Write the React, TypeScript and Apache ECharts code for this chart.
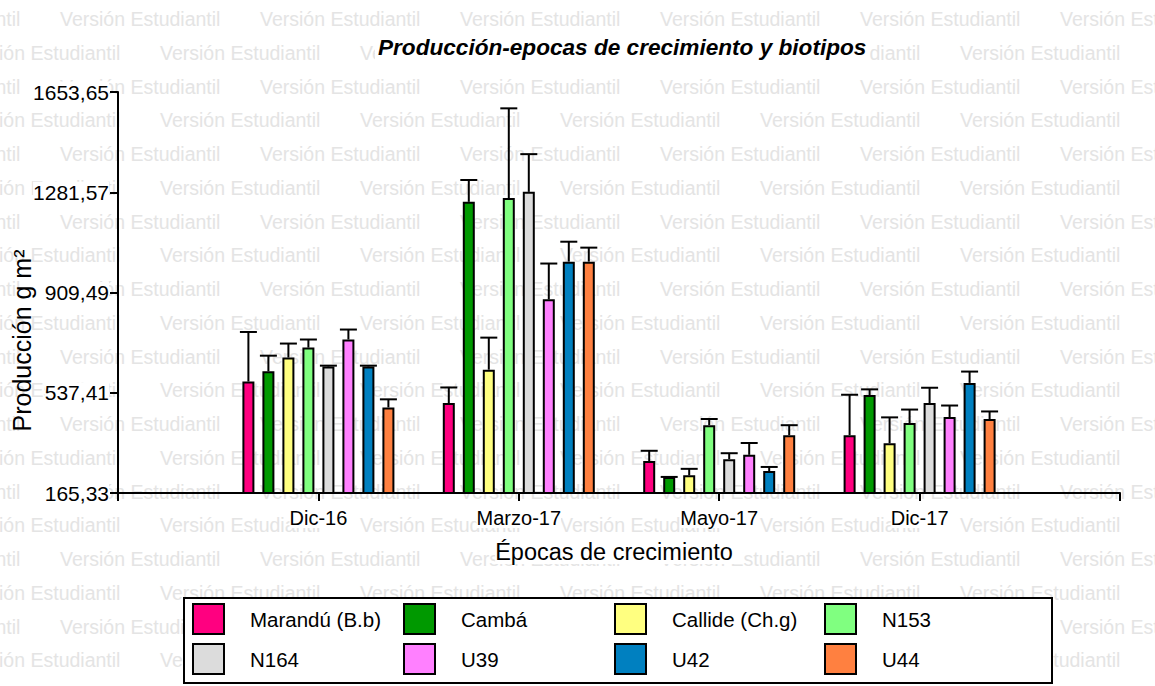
import React, { useEffect, useRef } from 'react';
import * as echarts from 'echarts';

const categories = ['Dic-16', 'Marzo-17', 'Mayo-17', 'Dic-17'];
const axisCategories = ['', 'Dic-16', 'Marzo-17', 'Mayo-17', 'Dic-17', ''];
const seriesNames = ['Marandú (B.b)', 'Cambá', 'Callide (Ch.g)', 'N153', 'N164', 'U39', 'U42', 'U44'];
const seriesColors = ['#FF0080', '#009900', '#FFFF80', '#80FF80', '#DCDCDC', '#FF80FF', '#0080C0', '#FF8040'];

// mean production per epoch (Dic-16, Marzo-17, Mayo-17, Dic-17)
const marandu = [579, 499, 284, 380];
const camba = [617, 1246, 225, 529];
const callide = [668, 623, 231, 350];
const n153 = [705, 1260, 417, 425];
const n164 = [635, 1283, 291, 499];
const u39 = [735, 884, 307, 447];
const u42 = [635, 1024, 247, 574];
const u44 = [483, 1024, 380, 440];

// upper error (SE) per epoch
const maranduErr = [184, 58, 38, 150];
const cambaErr = [58, 81, 0, 21];
const callideErr = [52, 119, 24, 96];
const n153Err = [30, 333, 23, 50];
const n164Err = [3, 140, 22, 57];
const u39Err = [37, 133, 44, 43];
const u42Err = [3, 74, 15, 42];
const u44Err = [30, 52, 37, 28];

const yTickValues = [165.33, 537.41, 909.49, 1281.57, 1653.65];
const yTickLabels = ['165,33', '537,41', '909,49', '1281,57', '1653,65'];

const means = [marandu, camba, callide, n153, n164, u39, u42, u44];
const errs = [maranduErr, cambaErr, callideErr, n153Err, n164Err, u39Err, u42Err, u44Err];

const FONT = 'Liberation Sans, Arial, sans-serif';
const BAR_W = 12;
const BAR_STEP = 20;

export default function App() {
  const ref = useRef<HTMLDivElement>(null);
  useEffect(() => {
    const chart = echarts.init(ref.current!, null, { renderer: 'svg' });

    const watermark: any[] = [];
    for (let k = 0; k < 20; k++) {
      const y = 19 + 33.75 * k;
      const start = (k % 2 === 0 ? 60 : 160) - 200;
      for (let x = start; x < 1155; x += 200) {
        watermark.push({
          type: 'text',
          x,
          y,
          z: -10,
          silent: true,
          style: {
            text: 'Versión Estudiantil',
            font: `19.5px ${FONT}`,
            fill: '#e4e4e4',
            verticalAlign: 'middle',
          },
        });
      }
    }

    const barSeries = seriesNames.map((name, i) => ({
      name,
      type: 'bar',
      barWidth: BAR_W,
      barGap: `${((BAR_STEP - BAR_W) / BAR_W) * 100}%`,
      itemStyle: { color: seriesColors[i], borderColor: '#000', borderWidth: 2 },
      data: categories.map((c, j) => [c, means[i][j]]),
      z: 2,
    }));

    const errSeries = seriesNames.map((name, i) => {
      const offset = (i - (seriesNames.length - 1) / 2) * BAR_STEP;
      return {
        name: name + ' err',
        type: 'custom',
        z: 3,
        silent: true,
        clip: false,
        data: categories.map((c, j) => [c, means[i][j], means[i][j] + errs[i][j]]),
        renderItem: (params: any, api: any) => {
          const xi = api.value(0);
          const base = api.coord([xi, api.value(1)]);
          const top = api.coord([xi, api.value(2)]);
          const x = base[0] + offset;
          return {
            type: 'group',
            children: [
              { type: 'line', shape: { x1: x, y1: base[1], x2: x, y2: top[1] }, style: { stroke: '#000', lineWidth: 2 } },
              { type: 'line', shape: { x1: x - 8.5, y1: top[1], x2: x + 8.5, y2: top[1] }, style: { stroke: '#000', lineWidth: 2 } },
            ],
          };
        },
      };
    });

    const colLefts = [192, 403, 614, 824];
    const rowTops = [603, 643];
    const legends = seriesNames.map((name, i) => ({
      orient: 'horizontal',
      left: colLefts[i % 4],
      top: rowTops[Math.floor(i / 4)],
      itemWidth: 31,
      itemHeight: 30,
      padding: 0,
      icon: 'rect',
      selectedMode: false,
      data: [name],
      itemStyle: { borderColor: '#000', borderWidth: 2 },
      textStyle: { fontSize: 20.5, color: '#000', fontFamily: FONT, padding: [0, 0, 0, 21] },
    }));

    const option: any = {
      animation: false,
      backgroundColor: '#fff',
      title: {
        text: 'Producción-epocas de crecimiento y biotipos',
        left: 375,
        top: 35,
        padding: [1, 3],
        backgroundColor: '#fff',
        textStyle: { fontSize: 22.6, fontWeight: 'bold', fontStyle: 'italic', color: '#000', fontFamily: FONT },
      },
      legend: legends,
      grid: { left: 118, right: 35, top: 92, bottom: 193, containLabel: false, outerBoundsMode: 'none' },
      xAxis: {
        type: 'category',
        data: axisCategories,
        boundaryGap: false,
        name: 'Épocas de crecimiento',
        nameLocation: 'middle',
        nameGap: 47,
        nameMoveOverlap: false,
        nameTextStyle: { fontSize: 23.5, color: '#000', fontFamily: FONT, backgroundColor: '#fff', padding: [0, 10, 0, 0] },
        axisLine: { lineStyle: { color: '#000', width: 2 } },
        axisTick: { show: true, length: 8, lineStyle: { color: '#000', width: 2 } },
        axisLabel: {
          interval: 0,
          margin: 15,
          fontSize: 20,
          color: '#000',
          fontFamily: FONT,
          backgroundColor: '#fff',
        },
        splitLine: { show: false },
      },
      yAxis: {
        type: 'value',
        min: yTickValues[0],
        max: yTickValues[yTickValues.length - 1],
        name: 'Producción g m²',
        nameLocation: 'middle',
        nameGap: 84,
        nameMoveOverlap: false,
        nameTextStyle: { fontSize: 25, color: '#000', fontFamily: FONT, padding: [0, 96, 0, 0] },
        axisLine: { show: true, lineStyle: { color: '#000', width: 2 } },
        axisTick: { show: true, length: 8, customValues: yTickValues, lineStyle: { color: '#000', width: 2 } },
        axisLabel: {
          customValues: yTickValues,
          margin: 9,
          fontSize: 21,
          color: '#000',
          fontFamily: FONT,
          backgroundColor: '#fff',
          formatter: (v: number) => {
            const idx = yTickValues.findIndex((t) => Math.abs(t - v) < 0.01);
            return idx >= 0 ? yTickLabels[idx] : '';
          },
        },
        splitLine: { show: false },
      },
      graphic: [
        ...watermark,
        {
          type: 'rect',
          z: 1,
          silent: true,
          shape: { x: 184, y: 598, width: 868, height: 85 },
          style: { fill: '#fff', stroke: '#000', lineWidth: 2 },
        },
      ],
      series: [...barSeries, ...errSeries],
    };

    chart.setOption(option);
    return () => chart.dispose();
  }, []);
  return <div ref={ref} style={{ position: 'fixed', left: 0, top: 0, width: 1155, height: 686 }} />;
}
